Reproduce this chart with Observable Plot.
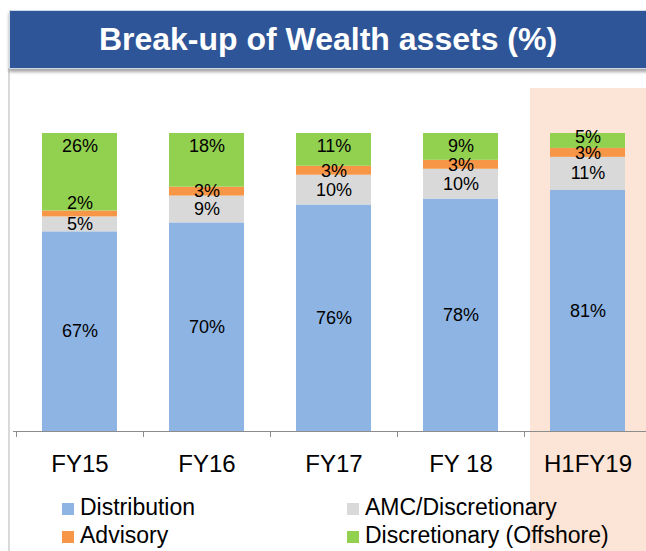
<!DOCTYPE html>
<html><head><meta charset="utf-8">
<script src="https://cdn.jsdelivr.net/npm/d3@7"></script>
<script src="https://cdn.jsdelivr.net/npm/@observablehq/plot@0.6"></script>
<style>
body{margin:0;background:#fff;font-family:"Liberation Sans",Arial,sans-serif;}
#wrap{position:relative;width:646px;height:551px;overflow:hidden;background:#fff;}
#highlight{position:absolute;left:530px;top:88px;width:130px;height:470px;background:#FCE4D6;}
#panel-line{position:absolute;left:8px;top:68px;width:2px;height:490px;background:#d9d9d9;}
#banner{position:absolute;left:9px;top:10px;width:650px;height:57px;background:#2E5597;border:1px solid #d0d7e5;box-shadow:0 3px 3px rgba(0,0,0,0.35);}
#banner span{position:absolute;left:0;width:650px;top:0;line-height:57px;text-align:center;color:#fff;font-weight:bold;font-size:32px;margin-left:-7px;}
#chart{position:absolute;left:0;top:0;}
.leg{position:absolute;font-size:23px;color:#000;line-height:26px;white-space:nowrap;}
.leg i{display:inline-block;width:12px;height:12px;margin-right:6px;vertical-align:0px;}
</style></head>
<body><div id="wrap">
<div id="highlight"></div>
<div id="panel-line"></div>
<div id="banner"><span id="title"></span></div>
<div id="chart"></div>
<div id="legend"></div>
</div>
<script>
const title = "Break-up of Wealth assets (%)";
const categories = ["FY15", "FY16", "FY17", "FY 18", "H1FY19"];
const seriesNames = ["Distribution", "AMC/Discretionary", "Advisory", "Discretionary (Offshore)"];
const distribution = [67, 70, 76, 78, 81];
const amcDiscretionary = [5, 9, 10, 10, 11];
const advisory = [2, 3, 3, 3, 3];
const offshore = [26, 18, 11, 9, 5];
const colors = ["#8EB4E3", "#D9D9D9", "#F79646", "#92D050"];

document.getElementById("title").textContent = title;

const seriesValues = [distribution, amcDiscretionary, advisory, offshore];
const data = [];
seriesNames.forEach((s, i) => categories.forEach((c, j) => data.push({category: c, series: s, value: seriesValues[i][j]})));

// label placement: the top (offshore) labels sit near the top of the bar;
// a tiny advisory label is nudged up, as in the original
const isOffshore = d => d.series === "Discretionary (Offshore)";
const offshoreBig = d => isOffshore(d) && d.value > 5;
const offshoreSmall = d => isOffshore(d) && d.value <= 5;
const advisorySmall = d => d.series === "Advisory" && d.value < 3;
const plain = d => !isOffshore(d) && !advisorySmall(d);
const stackOpts = dy => ({x: "category", y: "value", z: "series", order: seriesNames, text: d => d.value + "%", fontSize: 18, fill: "#000", dy});
// stack over all data first, then keep a subset
const midLabel = (test, dy) => Plot.text(data, Plot.filter(test, Plot.stackY(stackOpts(dy))));
const topLabel = (test, dy) => Plot.text(data, Plot.filter(test, Plot.stackY2(stackOpts(dy))));

const chart = Plot.plot({
  width: 646, height: 551,
  marginTop: 133, marginBottom: 120, marginLeft: 13, marginRight: 0,
  style: {fontFamily: '"Liberation Sans", Arial, sans-serif', background: "transparent", color: "#000"},
  x: {type: "band", domain: categories, range: [16, 651], paddingInner: 0.41, paddingOuter: 0.205, label: null},
  y: {domain: [0, 100], axis: null},
  color: {domain: seriesNames, range: colors},
  marks: [
    Plot.barY(data, Plot.stackY({x: "category", y: "value", z: "series", order: seriesNames, fill: "series"})),
    midLabel(plain, 0),
    midLabel(advisorySmall, -11),
    topLabel(offshoreBig, 13),
    topLabel(offshoreSmall, 4),
    Plot.ruleY([0], {stroke: "#8c8c8c", strokeWidth: 1.2}),
    Plot.axisX({tickSize: 6, tickFormat: () => "", dx: -63.5, stroke: "#8c8c8c", label: null}),
    Plot.axisX({tickSize: 0, tickPadding: 23, fontSize: 24, fill: "#000", label: null})
  ]
});
document.getElementById("chart").appendChild(chart);

const legend = document.getElementById("legend");
const legendPos = [[62, 494], [347, 494], [62, 522], [347, 522]];
seriesNames.forEach((name, k) => {
  const div = document.createElement("div");
  div.className = "leg";
  div.style.left = legendPos[k][0] + "px";
  div.style.top = legendPos[k][1] + "px";
  const sw = document.createElement("i");
  sw.style.background = colors[k];
  div.appendChild(sw);
  div.appendChild(document.createTextNode(name));
  legend.appendChild(div);
});
</script>
</body></html>
